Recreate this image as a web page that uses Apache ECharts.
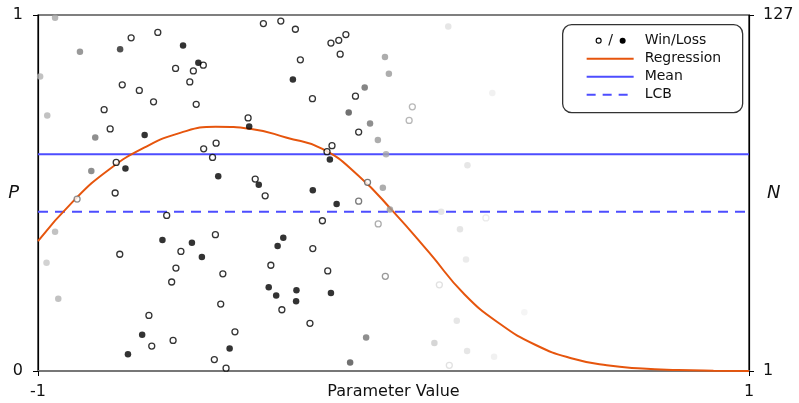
<!DOCTYPE html>
<html><head><meta charset="utf-8">
<script src="https://cdn.jsdelivr.net/npm/echarts@6/dist/echarts.min.js"></script>
<style>html,body{margin:0;padding:0;background:#fff}#c{width:799px;height:403px}</style>
</head><body><div id="c"></div>
<script>
// Wins (open circles): parameter value, P, weight (1 = black, 0 = invisible)
const winX = [-0.738,-0.663,-0.613,-0.563,-0.535,-0.573,-0.763,-0.715,-0.675,-0.555,-0.814,-0.797,-0.366,-0.317,-0.276,-0.176,-0.154,-0.134,-0.150,-0.262,-0.228,-0.107,-0.098,-0.409,-0.534,-0.499,-0.509,-0.780,-0.783,-0.890,-0.638,-0.598,-0.501,-0.770,-0.173,-0.187,-0.389,-0.361,-0.073,-0.098,-0.200,-0.043,-0.227,-0.612,-0.480,-0.624,-0.486,-0.688,-0.680,-0.620,-0.504,-0.471,-0.345,-0.185,-0.023,-0.314,-0.235,-0.446,0.053,0.044,0.260,0.129,0.157];
const winP = [0.936,0.951,0.850,0.843,0.859,0.812,0.804,0.788,0.756,0.749,0.734,0.680,0.976,0.983,0.960,0.921,0.929,0.945,0.890,0.874,0.765,0.772,0.671,0.711,0.624,0.640,0.600,0.586,0.500,0.483,0.437,0.336,0.383,0.328,0.633,0.616,0.539,0.492,0.530,0.477,0.422,0.413,0.344,0.289,0.273,0.250,0.188,0.156,0.070,0.086,0.032,0.008,0.297,0.281,0.266,0.172,0.134,0.110,0.742,0.704,0.430,0.242,0.016];
const winW = [1,1,1,1,1,1,1,1,1,1,1,1,1,1,1,1,1,1,1,1,1,1,1,1,1,1,1,1,1,0.55,1,1,1,1,1,1,1,1,0.65,0.65,1,0.4,1,1,1,1,1,1,1,1,1,1,1,1,0.5,1,1,1,0.35,0.35,0.1,0.15,0.15];
// Losses (filled circles)
const lossX = [-0.592,-0.549,-0.769,-0.700,-0.283,-0.406,-0.493,-0.754,-0.650,-0.567,-0.539,-0.179,-0.379,-0.227,-0.160,-0.310,-0.326,-0.707,-0.747,-0.461,-0.351,-0.330,-0.273,-0.274,-0.176,-0.994,-0.952,-0.882,-0.974,-0.839,-0.850,-0.952,-0.976,-0.943,-0.024,-0.013,-0.081,-0.126,-0.066,-0.044,-0.021,-0.030,-0.010,-0.077,-0.122,0.154,0.278,0.208,0.134,0.187,0.204,0.178,0.368,0.115,0.207,0.283];
const lossP = [0.914,0.866,0.904,0.663,0.819,0.687,0.547,0.569,0.368,0.360,0.320,0.594,0.523,0.508,0.469,0.374,0.351,0.102,0.047,0.063,0.235,0.212,0.227,0.196,0.219,0.827,0.992,0.897,0.718,0.656,0.562,0.391,0.304,0.203,0.882,0.835,0.796,0.726,0.695,0.649,0.609,0.515,0.454,0.094,0.024,0.968,0.781,0.578,0.447,0.398,0.313,0.141,0.165,0.079,0.056,0.040];
const lossW = [1,1,0.85,1,1,1,1,1,1,1,1,1,1,1,1,1,1,1,1,1,1,1,1,1,1,0.3,0.35,0.5,0.3,0.55,0.55,0.3,0.22,0.3,0.4,0.4,0.6,0.7,0.55,0.4,0.35,0.4,0.4,0.55,0.7,0.12,0.07,0.12,0.13,0.13,0.1,0.12,0.05,0.2,0.12,0.07];
// Regression curve
const regX = [-1,-0.9,-0.8,-0.7,-0.6,-0.5,-0.4,-0.3,-0.2,-0.1,0,0.1,0.2,0.3,0.4,0.5,0.6,0.7,0.8,0.9,1];
const regP = [0.365,0.478,0.566,0.628,0.669,0.686,0.680,0.655,0.624,0.550,0.447,0.333,0.215,0.132,0.073,0.036,0.016,0.007,0.003,0.001,0.000];
const meanP = 0.609;
const lcbP = 0.447;
const xTicks = [-1, 1];
const pTicks = [0, 1];
const nTicks = [1, 127];

const FONT = 'DejaVu Sans';
function gray(w){ const g = Math.round(255*(1-w)); return 'rgb('+g+','+g+','+g+')'; }

const winData = winX.map((x,i)=>({value:[x,winP[i]], itemStyle:{color:'#fff', borderColor:gray(winW[i]), borderWidth:1.3}}));
const lossData = lossX.map((x,i)=>({value:[x,lossP[i]], itemStyle:{color:gray(lossW[i]), borderWidth:0}}));

const chart = echarts.init(document.getElementById('c'), null, {renderer:'canvas'});
const RED = '#e6550d', BLUE = '#4d4dff';
chart.setOption({
  animation:false,
  grid:{left:38, right:50, top:15, bottom:32, show:true, borderColor:'#000', borderWidth:1.2, backgroundColor:'transparent', containLabel:false, outerBoundsMode:'none'},
  xAxis:{type:'value', min:-1, max:1, name:'Parameter Value', nameLocation:'middle', nameGap:13, nameMoveOverlap:false,
    nameTextStyle:{fontFamily:FONT, fontSize:16, color:'#111', verticalAlign:'top'},
    axisLine:{show:true, onZero:false, lineStyle:{color:'#777', width:2}},
    axisTick:{show:true, customValues:xTicks, length:5, lineStyle:{color:'#000'}},
    axisLabel:{customValues:xTicks, fontFamily:FONT, fontSize:16, color:'#111', margin:13},
    splitLine:{show:false}},
  yAxis:[
    {type:'value', min:0, max:1, name:'P', nameLocation:'middle', nameGap:19, nameRotate:0, nameMoveOverlap:false,
      nameTextStyle:{fontFamily:FONT, fontSize:18, fontStyle:'italic', color:'#111'},
      axisLine:{show:true, onZero:false, lineStyle:{color:'#000', width:1.2}},
      axisTick:{show:true, customValues:pTicks, length:5, lineStyle:{color:'#000'}},
      axisLabel:{customValues:pTicks, fontFamily:FONT, fontSize:16, color:'#111', margin:15},
      splitLine:{show:false}},
    {type:'value', min:1, max:127, position:'right', name:'N', nameLocation:'middle', nameGap:18, nameRotate:0, nameMoveOverlap:false,
      nameTextStyle:{fontFamily:FONT, fontSize:18, fontStyle:'italic', color:'#111'},
      axisLine:{show:true, onZero:false, lineStyle:{color:'#000', width:1.2}},
      axisTick:{show:true, customValues:nTicks, length:5, lineStyle:{color:'#000'}},
      axisLabel:{customValues:nTicks, fontFamily:FONT, fontSize:16, color:'#111', margin:14},
      splitLine:{show:false}}
  ],
  series:[
    {type:'line', name:'Mean', data:[[-1,meanP],[1,meanP]], symbol:'none', lineStyle:{color:BLUE, width:2}, z:2},
    {type:'line', name:'LCB', data:[[-1,lcbP],[1,lcbP]], symbol:'none', lineStyle:{color:BLUE, width:2, type:[10,7]}, z:2},
    {type:'line', name:'Regression', data:regX.map((x,i)=>[x,regP[i]]), smooth:true, symbol:'none', lineStyle:{color:RED, width:2}, z:3},
    {type:'scatter', name:'Win', data:winData, symbol:'circle', symbolSize:6, z:4},
    {type:'scatter', name:'Loss', data:lossData, symbol:'circle', symbolSize:6.5, z:4}
  ],
  graphic:[
    {type:'group', left:562, top:24, z:100, children:[
      {type:'rect', shape:{x:0,y:0,width:180,height:88,r:9}, style:{fill:'#fff', stroke:'#333', lineWidth:1.3}},
      {type:'circle', shape:{cx:36,cy:16,r:2.5}, style:{fill:'#fff', stroke:'#000', lineWidth:1.1}},
      {type:'text', x:48, y:16, style:{text:'/', fontFamily:FONT, fontSize:14, fill:'#111', align:'center', verticalAlign:'middle'}},
      {type:'circle', shape:{cx:60,cy:16,r:3}, style:{fill:'#000'}},
      {type:'text', x:82, y:16, style:{text:'Win/Loss', fontFamily:FONT, fontSize:14, fill:'#111', verticalAlign:'middle'}},
      {type:'line', shape:{x1:24,y1:34,x2:71,y2:34}, style:{stroke:RED, lineWidth:2}},
      {type:'text', x:82, y:34, style:{text:'Regression', fontFamily:FONT, fontSize:14, fill:'#111', verticalAlign:'middle'}},
      {type:'line', shape:{x1:24,y1:52,x2:71,y2:52}, style:{stroke:BLUE, lineWidth:2}},
      {type:'text', x:82, y:52, style:{text:'Mean', fontFamily:FONT, fontSize:14, fill:'#111', verticalAlign:'middle'}},
      {type:'line', shape:{x1:24,y1:70,x2:71,y2:70}, style:{stroke:BLUE, lineWidth:2, lineDash:[9,7]}},
      {type:'text', x:82, y:70, style:{text:'LCB', fontFamily:FONT, fontSize:14, fill:'#111', verticalAlign:'middle'}}
    ]}
  ]
});
</script></body></html>
